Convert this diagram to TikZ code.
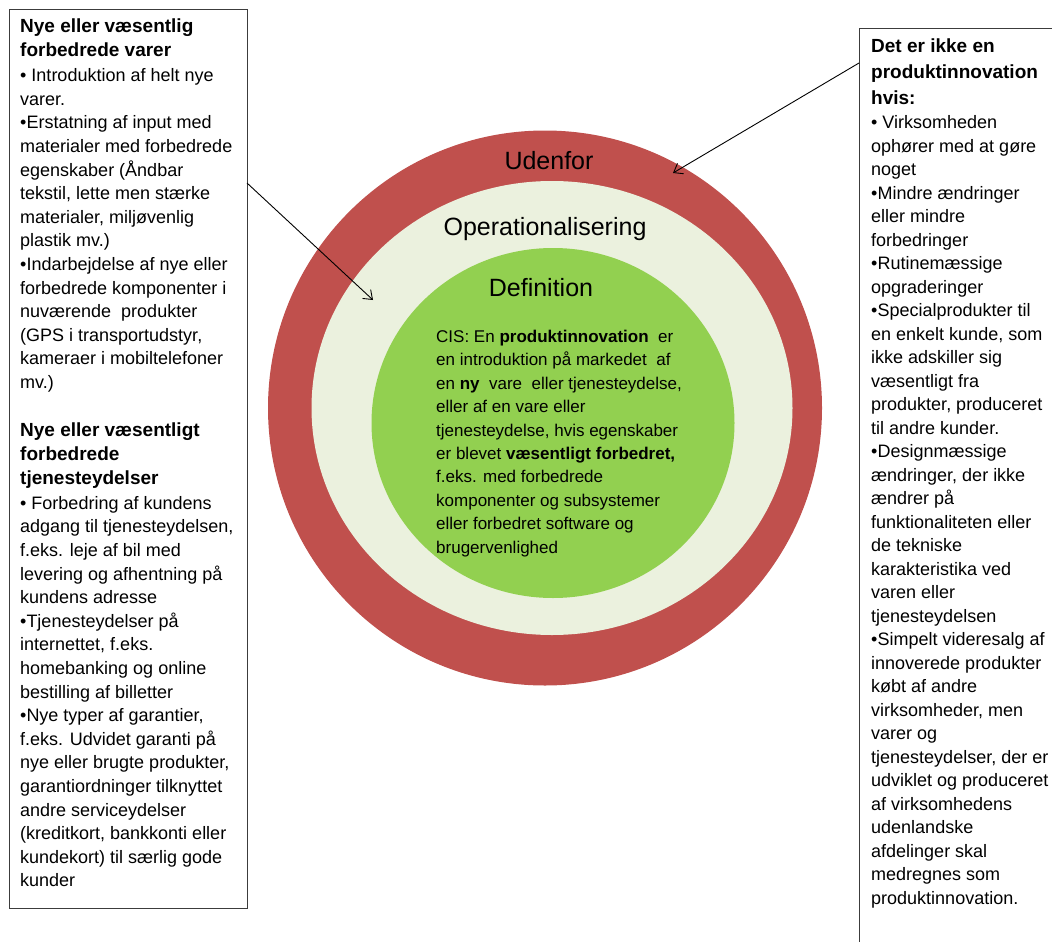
\documentclass[tikz,border=0pt]{standalone}
\usepackage{fontspec}
\setmainfont{Liberation Sans}
\usetikzlibrary{arrows.meta,shapes.geometric}
\definecolor{ringred}{RGB}{192,80,77}
\definecolor{ringpale}{RGB}{235,241,222}
\definecolor{ringgreen}{RGB}{146,208,80}
\definecolor{boxline}{RGB}{60,60,60}

\tikzset{
  panel/.style={draw=boxline, line width=1.3pt, inner sep=0pt, anchor=north west},
  ring/.style={ellipse, inner sep=0pt},
  ringlabel/.style={font=\fontsize{25}{30}\selectfont},
  headtext/.style={anchor=north west, inner sep=0pt, align=left, font=\fontsize{19}{24}\selectfont\bfseries},
  bodytext/.style={anchor=north west, inner sep=0pt, align=left, font=\fontsize{18}{23.5}\selectfont},
  pointer/.style={-{Straight Barb[length=8pt,width=12pt]}, line width=0.9pt}
}

\begin{document}
\begin{tikzpicture}[x=1pt, y=-1pt]
\useasboundingbox (0,0) rectangle (1052,942);
\clip (0,0) rectangle (1052,942);

% the three rings
\node[ring, fill=ringred, minimum width=554, minimum height=555] (udenfor) at (545,408) {};
\node[ring, fill=ringpale, minimum width=481, minimum height=454] (operational) at (552,408) {};
\node[ring, fill=ringgreen, minimum width=363, minimum height=350] (definition) at (553,423) {};

\node[ringlabel] (udenforlabel) at (549,161) {Udenfor};
\node[ringlabel] (operationallabel) at (545,229) {Operationalisering};
\node[ringlabel] (definitionlabel) at (541,288) {Definition};

\node[bodytext, font=\fontsize{17}{23.4}\selectfont] (deftext) at (436,330) {CIS: En \textbf{produktinnovation}\ \ er\\
en introduktion på markedet\ \ af\\
en \textbf{ny}\ \ vare\ \ eller tjenesteydelse,\\
eller af en vare eller\\
tjenesteydelse, hvis egenskaber\\
er blevet \textbf{væsentligt forbedret,}\\
f.eks. med forbedrede\\
komponenter og subsystemer\\
eller forbedret software og\\
brugervenlighed};

% left panel
\node[panel, minimum width=238, minimum height=899] (leftbox) at (9,9) {};
\node[headtext] (lefthead) at (20,19) {Nye eller væsentlig\\forbedrede varer};
\node[bodytext, font=\fontsize{18}{23.6}\selectfont] (leftbody) at (20,68.5) {• Introduktion af helt nye\\
varer.\\
•Erstatning af input med\\
materialer med forbedrede\\
egenskaber (Åndbar\\
tekstil, lette men stærke\\
materialer, miljøvenlig\\
plastik mv.)\\
•Indarbejdelse af nye eller\\
forbedrede komponenter i\\
nuværende\ \ produkter\\
(GPS i transportudstyr,\\
kameraer i mobiltelefoner\\
mv.)};
\node[headtext] (leftheadtwo) at (20,423) {Nye eller væsentligt\\forbedrede\\tjenesteydelser};
\node[bodytext, font=\fontsize{18}{23.6}\selectfont] (leftbodytwo) at (20,496) {• Forbedring af kundens\\
adgang til tjenesteydelsen,\\
f.eks. leje af bil med\\
levering og afhentning på\\
kundens adresse\\
•Tjenesteydelser på\\
internettet, f.eks.\\
homebanking og online\\
bestilling af billetter\\
•Nye typer af garantier,\\
f.eks. Udvidet garanti på\\
nye eller brugte produkter,\\
garantiordninger tilknyttet\\
andre serviceydelser\\
(kreditkort, bankkonti eller\\
kundekort) til særlig gode\\
kunder};

% right panel, runs off the page
\node[panel, minimum width=240, minimum height=960] (rightbox) at (859,28) {};
\node[headtext, font=\fontsize{19}{26}\selectfont\bfseries] (righthead) at (871,39) {Det er ikke en\\produktinnovation\\hvis:};
\node[bodytext] (rightbody) at (871,115.5) {• Virksomheden\\
ophører med at gøre\\
noget\\
•Mindre ændringer\\
eller mindre\\
forbedringer\\
•Rutinemæssige\\
opgraderinger\\
•Specialprodukter til\\
en enkelt kunde, som\\
ikke adskiller sig\\
væsentligt fra\\
produkter, produceret\\
til andre kunder.\\
•Designmæssige\\
ændringer, der ikke\\
ændrer på\\
funktionaliteten eller\\
de tekniske\\
karakteristika ved\\
varen eller\\
tjenesteydelsen\\
•Simpelt videresalg af\\
innoverede produkter\\
købt af andre\\
virksomheder, men\\
varer og\\
tjenesteydelser, der er\\
udviklet og produceret\\
af virksomhedens\\
udenlandske\\
afdelinger skal\\
medregnes som\\
produktinnovation.};

% pointers
\coordinate (leftfrom) at (247,183);
\coordinate (paleend) at (373,300);
\coordinate (rightfrom) at (859,63);
\coordinate (redend) at (673,173);
\draw[pointer] (leftfrom) -- (paleend);
\draw[pointer] (rightfrom) -- (redend);
\end{tikzpicture}
\end{document}
